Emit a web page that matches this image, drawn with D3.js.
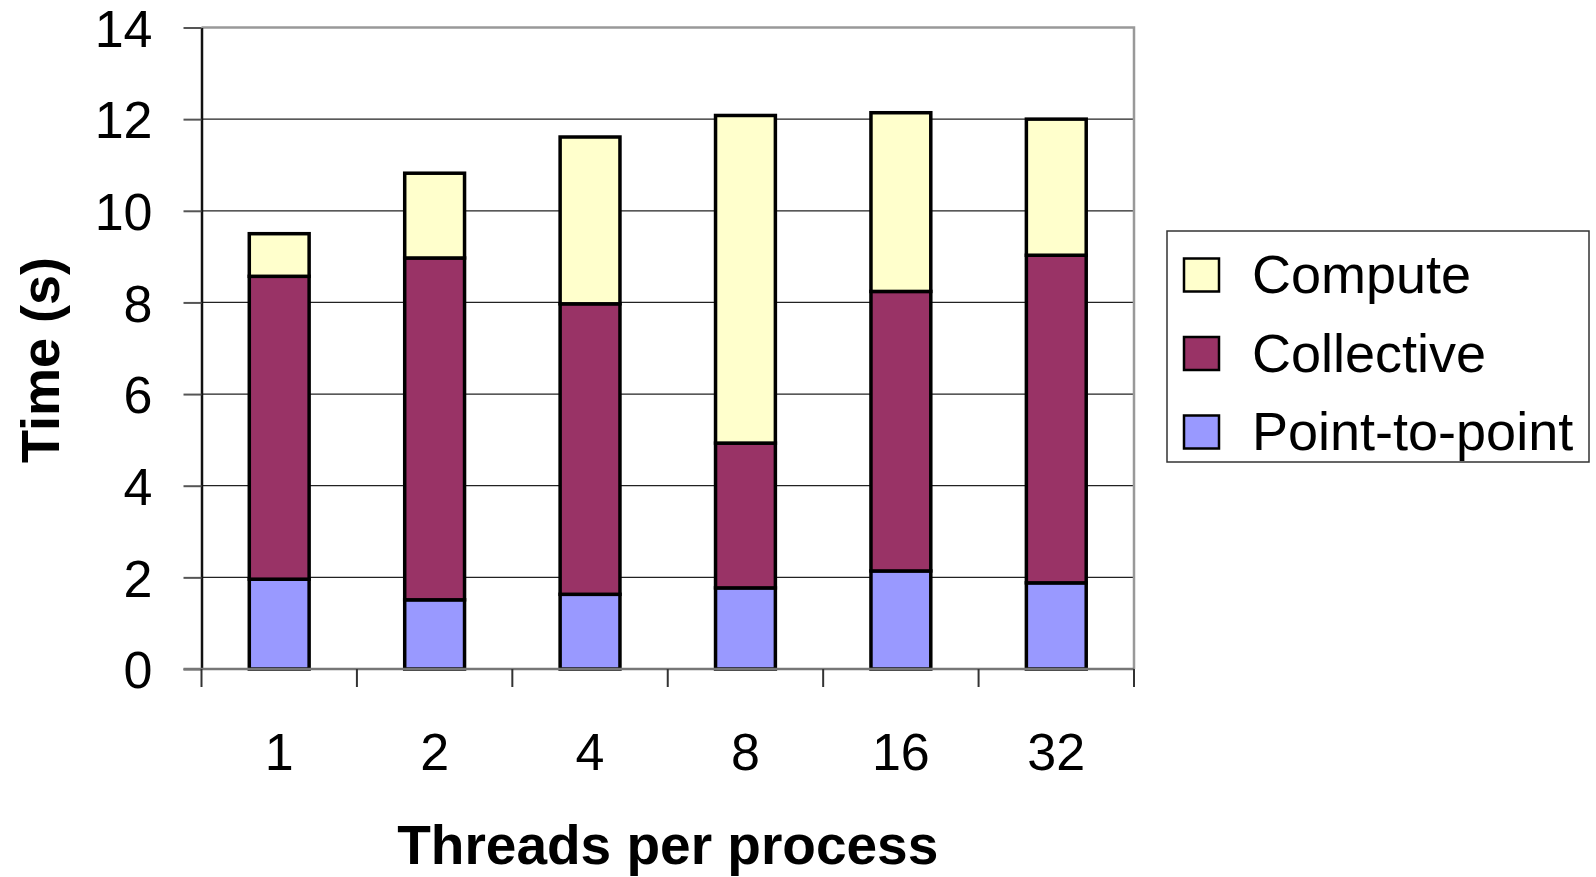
<!DOCTYPE html>
<html>
<head>
<meta charset="utf-8">
<script src="https://cdn.jsdelivr.net/npm/d3@7"></script>
<style>
  body { margin: 0; background: #fff; }
  text { font-family: "Liberation Sans", Arial, sans-serif; fill: #000; }
</style>
</head>
<body>
<div id="chart"></div>
<script>
var width = 1596;
var height = 877;

// data
var threads = ["1", "2", "4", "8", "16", "32"];
var pointToPoint = [1.96, 1.51, 1.63, 1.77, 2.14, 1.88];
var collective = [6.61, 7.46, 6.34, 3.16, 6.10, 7.15];
var compute = [0.93, 1.85, 3.64, 7.15, 3.90, 2.97];
var seriesNames = ["Point-to-point", "Collective", "Compute"];
var seriesColors = ["#9999FF", "#993366", "#FFFFCC"];
var yTicks = [0, 2, 4, 6, 8, 10, 12, 14];

var plot = {left: 201.5, right: 1134, top: 27.5, bottom: 669};

var rows = threads.map(function(t, i) {
	return {t: t, "Point-to-point": pointToPoint[i], "Collective": collective[i], "Compute": compute[i]};
});

var svg = d3.select("#chart")
			.append("svg")
			.attr("width", width)
			.attr("height", height);

var x = d3.scaleBand()
		  .domain(threads)
		  .range([plot.left, plot.right])
		  .paddingInner(0.615)
		  .paddingOuter(0.3075);

var y = d3.scaleLinear()
		  .domain([0, 14])
		  .range([plot.bottom, plot.top]);

// gridlines
svg.append("g")
   .selectAll("line")
   .data(yTicks.filter(function(d) { return d > 0 && d < 14; }))
   .enter()
   .append("line")
   .attr("x1", plot.left)
   .attr("x2", plot.right)
   .attr("y1", function(d) { return y(d); })
   .attr("y2", function(d) { return y(d); })
   .attr("stroke", "#222")
   .attr("stroke-width", 1.2);

// top and right border (gray)
svg.append("path")
   .attr("d", "M" + plot.left + "," + plot.top + "H" + plot.right + "V" + plot.bottom)
   .attr("fill", "none")
   .attr("stroke", "#999")
   .attr("stroke-width", 2.5);

// bars
var stack = d3.stack().keys(seriesNames);
var layers = stack(rows);

svg.append("g")
   .selectAll("g")
   .data(layers)
   .enter()
   .append("g")
   .attr("fill", function(d, i) { return seriesColors[i]; })
   .selectAll("rect")
   .data(function(d) { return d; })
   .enter()
   .append("rect")
   .attr("x", function(d) { return x(d.data.t); })
   .attr("width", x.bandwidth())
   .attr("y", function(d) { return y(d[1]); })
   .attr("height", function(d) { return y(d[0]) - y(d[1]); })
   .attr("stroke", "#000")
   .attr("stroke-width", 3.5);

// y axis
var yAxis = svg.append("g")
   .attr("transform", "translate(" + plot.left + ",0)")
   .call(d3.axisLeft(y).tickValues(yTicks).tickSize(18).tickSizeOuter(0).tickPadding(31));
yAxis.select(".domain").attr("stroke", "#111").attr("stroke-width", 2.5);
yAxis.selectAll(".tick line").attr("stroke", "#555").attr("stroke-width", 2);
yAxis.selectAll(".tick text")
	 .attr("font-size", 52)
	 .attr("font-family", "Liberation Sans, Arial, sans-serif")
	 .attr("fill", "#000")
	 .attr("dy", "0.36em");

// x axis: line plus ticks on category boundaries
var xAxis = svg.append("g");
xAxis.append("line")
	 .attr("x1", plot.left - 18)
	 .attr("x2", plot.right)
	 .attr("y1", plot.bottom)
	 .attr("y2", plot.bottom)
	 .attr("stroke", "#777")
	 .attr("stroke-width", 2.5);

var step = x.step();
var bounds = d3.range(threads.length + 1).map(function(i) { return plot.left + i * step; });
xAxis.selectAll(".xtick")
	 .data(bounds)
	 .enter()
	 .append("line")
	 .attr("class", "xtick")
	 .attr("x1", function(d) { return d; })
	 .attr("x2", function(d) { return d; })
	 .attr("y1", plot.bottom)
	 .attr("y2", plot.bottom + 18)
	 .attr("stroke", "#333")
	 .attr("stroke-width", 2);

xAxis.selectAll(".xlabel")
	 .data(threads)
	 .enter()
	 .append("text")
	 .attr("class", "xlabel")
	 .attr("x", function(d) { return x(d) + x.bandwidth() / 2; })
	 .attr("y", 770)
	 .attr("text-anchor", "middle")
	 .attr("font-size", 52)
	 .text(function(d) { return d; });

// axis titles
svg.append("text")
   .attr("x", (plot.left + plot.right) / 2)
   .attr("y", 864)
   .attr("text-anchor", "middle")
   .attr("font-size", 55)
   .attr("font-weight", "bold")
   .text("Threads per process");

svg.append("text")
   .attr("transform", "translate(59,360) rotate(-90)")
   .attr("text-anchor", "middle")
   .attr("font-size", 54)
   .attr("font-weight", "bold")
   .text("Time (s)");

// legend
var legend = svg.append("g");
legend.append("rect")
	  .attr("x", 1167)
	  .attr("y", 231)
	  .attr("width", 422)
	  .attr("height", 231)
	  .attr("fill", "#fff")
	  .attr("stroke", "#333")
	  .attr("stroke-width", 1.5);

var legendOrder = [2, 1, 0];
var items = legend.selectAll(".item")
	  .data(legendOrder)
	  .enter()
	  .append("g")
	  .attr("class", "item")
	  .attr("transform", function(d, i) { return "translate(1184," + (275 + i * 78.5) + ")"; });

items.append("rect")
	 .attr("x", 0)
	 .attr("y", -16.5)
	 .attr("width", 35)
	 .attr("height", 33)
	 .attr("fill", function(d) { return seriesColors[d]; })
	 .attr("stroke", "#000")
	 .attr("stroke-width", 2.5);

items.append("text")
	 .attr("x", 68)
	 .attr("y", 18)
	 .attr("font-size", 54)
	 .text(function(d) { return seriesNames[d]; });
</script>
</body>
</html>
